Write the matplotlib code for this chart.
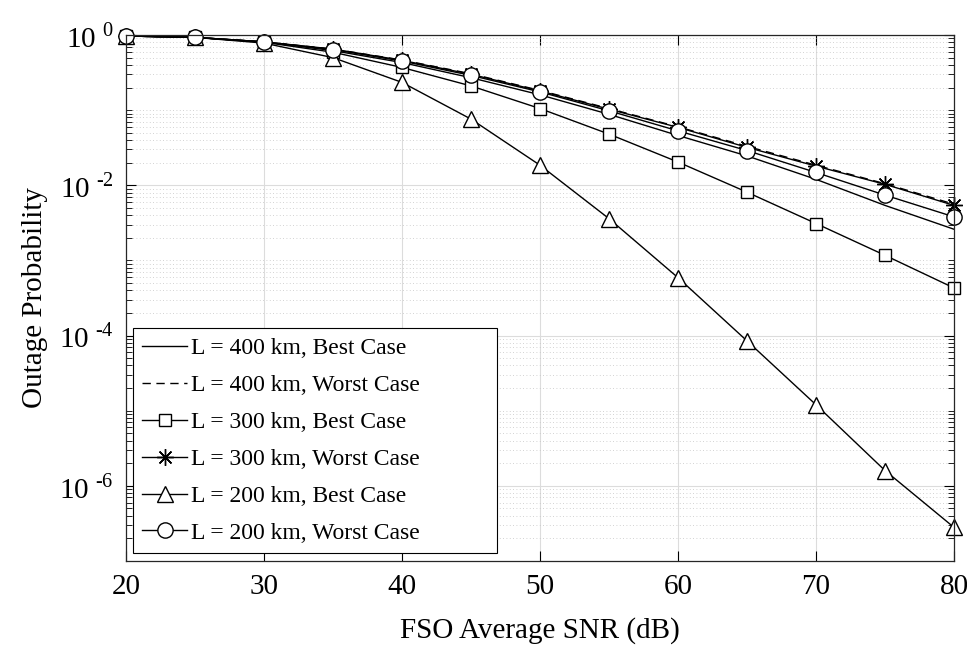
import numpy as np
import matplotlib
matplotlib.use("Agg")
import matplotlib.pyplot as plt
from matplotlib.ticker import FixedLocator, NullFormatter

plt.rcParams['font.family'] = ['Liberation Serif', 'DejaVu Serif']
plt.rcParams['mathtext.fontset'] = 'custom'
plt.rcParams['mathtext.rm'] = 'Liberation Serif'

# SNR (dB)
snr = [20, 25, 30, 35, 40, 45, 50, 55, 60, 65, 70, 75, 80]

# outage probability
l400_best = [0.97, 0.93, 0.81, 0.62, 0.43, 0.27, 0.16, 0.088, 0.046, 0.0246, 0.012, 0.0054, 0.0026]
l400_worst = [0.97, 0.93, 0.81, 0.65, 0.465, 0.305, 0.183, 0.105, 0.060, 0.033, 0.0185, 0.0105, 0.0056]
l300_best = [0.97, 0.93, 0.80, 0.59, 0.37, 0.21, 0.105, 0.048, 0.0204, 0.0081, 0.0031, 0.00117, 0.00043]
l300_worst = [0.97, 0.93, 0.81, 0.65, 0.46, 0.30, 0.18, 0.103, 0.059, 0.032, 0.018, 0.0103, 0.0054]
l200_best = [0.97, 0.93, 0.78, 0.50, 0.234, 0.076, 0.0185, 0.0036, 5.9e-4, 8.5e-5, 1.2e-5, 1.6e-6, 2.8e-7]
l200_worst = [0.97, 0.93, 0.81, 0.64, 0.45, 0.29, 0.175, 0.098, 0.053, 0.029, 0.0148, 0.0074, 0.0038]

labels = ['L = 400 km, Best Case', 'L = 400 km, Worst Case',
          'L = 300 km, Best Case', 'L = 300 km, Worst Case',
          'L = 200 km, Best Case', 'L = 200 km, Worst Case']
ytick_vals = [1, 1e-2, 1e-4, 1e-6]
ytick_text = ['10$^{\\ 0}$', '10$^{\\ \u20102}$', '10$^{\\ \u20104}$', '10$^{\\ \u20106}$']

fig = plt.figure(figsize=(9.67, 6.48), dpi=100)
ax = fig.add_axes([126/967, 1-561/648, (954-126)/967, (561-35)/648])

kw = dict(color='black', lw=1.0, mfc='white', mec='black', mew=1.0, clip_on=False)
ax.semilogy(snr, l400_best, '-', label=labels[0], **kw)
ax.semilogy(snr, l400_worst, '--', dashes=(6, 4), label=labels[1], **kw)
ax.semilogy(snr, l300_best, '-s', ms=8, label=labels[2], **kw)
ax.semilogy(snr, l300_worst, '-', marker=(8, 2, 0), ms=12, label=labels[3], **kw)
ax.semilogy(snr, l200_best, '-^', ms=12, label=labels[4], **kw)
ax.semilogy(snr, l200_worst, '-o', ms=11, label=labels[5], **kw)

ax.set_xlim(20, 80)
ax.set_ylim(1e-7, 1)
ax.set_xticks([20, 30, 40, 50, 60, 70, 80])
ax.yaxis.set_major_locator(FixedLocator(ytick_vals))
ax.set_yticklabels(ytick_text)
minor = [k * 10.0**e for e in range(-7, 0) for k in range(1, 10)
         if not any(abs(k * 10.0**e - v) < 1e-12 for v in ytick_vals)]
ax.yaxis.set_minor_locator(FixedLocator(minor))
ax.yaxis.set_minor_formatter(NullFormatter())

ax.grid(True, which='major', color='#dcdcdc', lw=0.8, ls='-')
ax.yaxis.grid(True, which='minor', color='#c4c4c4', lw=0.6, ls=(0, (1, 3)))
ax.set_axisbelow(True)

ax.tick_params(which='both', direction='in', top=True, right=True, labelsize=21, pad=9)
ax.tick_params(which='major', length=7)
ax.tick_params(which='minor', length=4)
for s in ax.spines.values():
    s.set_linewidth(0.9)
    s.set_color('#262626')

ax.set_xlabel('FSO Average SNR (dB)', fontsize=21, labelpad=13)
ax.set_ylabel('Outage Probability', fontsize=21, labelpad=8)

leg = ax.legend(loc='lower left', bbox_to_anchor=(0.0085, 0.015, 0.44, 0.426), mode='expand',
                fontsize=17, fancybox=False, framealpha=1, edgecolor='black',
                handlelength=1.9, handletextpad=0.15, borderpad=0.4,
                labelspacing=0.65, borderaxespad=0.0)
leg.get_frame().set_linewidth(0.8)

fig.savefig('out.png', dpi=100)
